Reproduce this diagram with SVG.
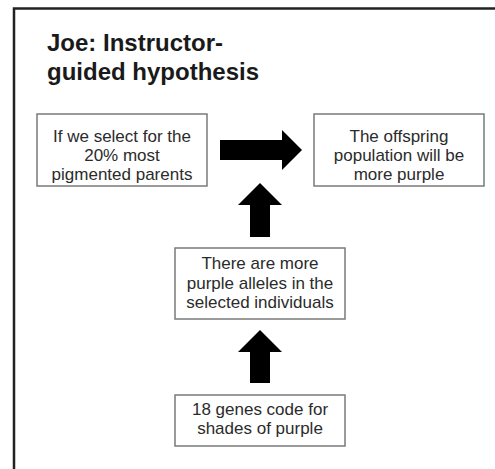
<svg xmlns="http://www.w3.org/2000/svg" width="495" height="469" viewBox="0 0 495 469">
<style>
.box{fill:#fff;stroke:#7a7a7a;stroke-width:1.5}
.t{font-family:"Liberation Sans",Arial,sans-serif;font-size:17px;fill:#2b2b2b;text-anchor:middle}
.title{font-family:"Liberation Sans",Arial,sans-serif;font-size:24px;font-weight:bold;fill:#1a1a1a}
.arr{fill:#000}
</style>
<rect width="495" height="469" fill="#fff"/>
<path d="M14 470 V8.5 H496" fill="none" stroke="#222" stroke-width="2.5"/>
<text class="title" x="47" y="51">Joe: Instructor-</text>
<text class="title" x="47" y="80">guided hypothesis</text>
<g id="connectors">
<polygon class="arr" points="220,140 282,140 282,130 302,150 282,170 282,160 220,160"/>
<polygon class="arr" points="250,237 250,205 238,205 260,183 282,205 270,205 270,237"/>
<polygon class="arr" points="250,383 250,352 238,352 260,330 282,352 270,352 270,383"/>
</g>
<g id="select">
<rect class="box" x="37" y="114" width="170" height="72"/>
<text class="t"><tspan x="122" y="142">If we select for the</tspan><tspan x="122" y="161">20% most</tspan><tspan x="122" y="180">pigmented parents</tspan></text>
</g>
<g id="offspring">
<rect class="box" x="314" y="114" width="170" height="72"/>
<text class="t"><tspan x="399" y="142">The offspring</tspan><tspan x="399" y="161">population will be</tspan><tspan x="399" y="180">more purple</tspan></text>
</g>
<g id="alleles">
<rect class="box" x="175" y="248" width="170" height="71"/>
<text class="t"><tspan x="260" y="269">There are more</tspan><tspan x="260" y="289">purple alleles in the</tspan><tspan x="260" y="308">selected individuals</tspan></text>
</g>
<g id="genes">
<rect class="box" x="175" y="395" width="170" height="51"/>
<text class="t"><tspan x="260" y="415">18 genes code for</tspan><tspan x="260" y="434">shades of purple</tspan></text>
</g>
</svg>
